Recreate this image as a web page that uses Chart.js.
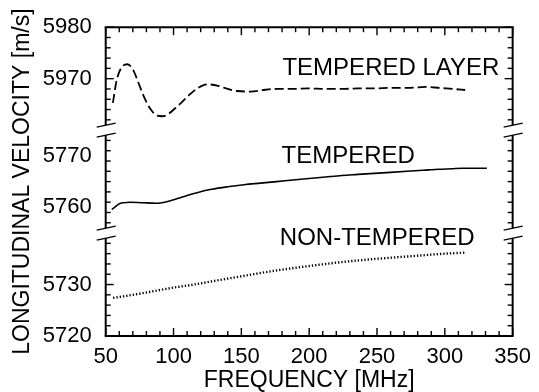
<!DOCTYPE html>
<html lang="en">
<head>
<meta charset="UTF-8">
<title>Longitudinal velocity vs frequency</title>
<script src="https://cdn.jsdelivr.net/npm/chart.js"></script>
<style>
    body { margin: 0; background: #fff; }
    #wrap { width: 539px; height: 392px; }
</style>
</head>
<body>
<div id="wrap"><canvas id="velocityChart" width="539" height="392"></canvas></div>
<script>
    // values: frequency [MHz], velocity [m/s]
    const freqLayer = [55.3, 58, 61.5, 66, 70, 75, 78.5, 83, 88, 92, 96.5, 101, 106, 111, 118, 125, 133, 140, 147, 157, 166, 176, 188, 200, 212, 224, 236, 248, 260, 272, 280, 287, 296, 306, 315];
    const velLayer = [5965.3, 5969.6, 5972.1, 5972.8, 5971.8, 5968.6, 5966.3, 5964.1, 5962.8, 5962.7, 5963.2, 5964.2, 5965.4, 5966.7, 5968.2, 5968.9, 5968.6, 5968.0, 5967.6, 5967.5, 5967.8, 5968.0, 5968.0, 5968.1, 5968.0, 5968.0, 5968.1, 5968.1, 5968.2, 5968.2, 5968.3, 5968.4, 5968.2, 5968.0, 5967.8];

    const freqTempered = [54.5, 56.5, 60, 63, 68, 77, 87, 95, 103, 110, 118, 128, 140, 152, 164, 176, 188, 200, 212, 224, 236, 248, 260, 272, 284, 296, 305, 313, 322, 331];
    const velTempered = [5759.6, 5760.0, 5760.7, 5760.9, 5761.0, 5760.9, 5760.8, 5761.1, 5761.7, 5762.3, 5762.9, 5763.5, 5764.0, 5764.4, 5764.7, 5765.0, 5765.3, 5765.6, 5765.9, 5766.2, 5766.4, 5766.6, 5766.8, 5767.0, 5767.2, 5767.4, 5767.5, 5767.6, 5767.6, 5767.6];

    const freqNonTempered = [55.5, 70, 85, 100, 115, 130, 150, 175, 200, 225, 250, 275, 300, 315];
    const velNonTempered = [5727.4, 5728.0, 5728.7, 5729.4, 5730.0, 5730.7, 5731.6, 5732.7, 5733.6, 5734.4, 5735.0, 5735.5, 5736.0, 5736.2];

    const freqTicks = [50, 100, 150, 200, 250, 300, 350];
    const lowTicks = [5720, 5730];
    const midTicks = [5760, 5770];
    const topTicks = [5970, 5980];

    // the three pieces of the broken velocity axis
    const lowRange = [5720, 5740];
    const midRange = [5755, 5775];
    const topRange = [5960, 5980];

    const FONT = '"Liberation Sans", Arial, Helvetica, sans-serif';

    function points(xs, ys) {
        return xs.map((x, i) => ({x: x, y: ys[i]}));
    }

    function strokeLine(ctx, x1, y1, x2, y2) {
        ctx.beginPath();
        ctx.moveTo(x1, y1);
        ctx.lineTo(x2, y2);
        ctx.stroke();
    }

    // box, inward ticks, axis breaks and curve labels
    const framePlugin = {
        id: 'frame',
        afterDatasetsDraw(chart) {
            const {ctx, chartArea: a, scales} = chart;
            const xs = scales.x;
            const pieces = [scales.yLow, scales.yMid, scales.yTop];
            const breaks = [scales.yLow.top, scales.yMid.top];
            const gap = 5;
            ctx.save();
            ctx.strokeStyle = '#000';
            ctx.lineCap = 'butt';

            ctx.lineWidth = 1.4;
            for (let f = 50; f <= 350; f += 10) {
                const px = xs.getPixelForValue(f);
                const len = f % 50 === 0 ? 8 : 5;
                strokeLine(ctx, px, a.bottom, px, a.bottom - len);
                strokeLine(ctx, px, a.top, px, a.top + len);
            }
            pieces.forEach(s => {
                for (let v = s.min; v <= s.max; v += 2) {
                    const py = s.getPixelForValue(v);
                    if (breaks.some(b => Math.abs(py - b) < gap + 1)) continue;
                    const len = v % 10 === 0 ? 8 : 5;
                    strokeLine(ctx, a.left, py, a.left + len, py);
                    strokeLine(ctx, a.right, py, a.right - len, py);
                }
            });

            ctx.lineWidth = 2;
            strokeLine(ctx, a.left - 1, a.bottom, a.right + 1, a.bottom);
            strokeLine(ctx, a.left - 1, a.top, a.right + 1, a.top);
            const ends = [a.top, breaks[1] - gap, breaks[1] + gap, breaks[0] - gap, breaks[0] + gap, a.bottom];
            [a.left, a.right].forEach(X => {
                for (let i = 0; i < ends.length; i += 2) {
                    strokeLine(ctx, X, ends[i], X, ends[i + 1]);
                }
            });

            ctx.lineWidth = 1.3;
            breaks.forEach(b => {
                [a.left, a.right].forEach(X => {
                    [b - gap, b + gap].forEach(y => {
                        strokeLine(ctx, X - 9, y + 2, X + 10, y - 2);
                    });
                });
            });

            ctx.fillStyle = '#000';
            ctx.font = '24px ' + FONT;
            ctx.textAlign = 'left';
            ctx.textBaseline = 'alphabetic';
            ctx.fillText('TEMPERED LAYER', xs.getPixelForValue(180.3), scales.yTop.getPixelForValue(5970.66));
            ctx.fillText('TEMPERED', xs.getPixelForValue(179.6), scales.yMid.getPixelForValue(5768.6));
            ctx.fillText('NON-TEMPERED', xs.getPixelForValue(178.4), scales.yLow.getPixelForValue(5737.6));
            ctx.restore();
        }
    };

    function yPiece(range, tickValues, withTitle) {
        return {
            type: 'linear',
            position: 'left',
            stack: 'velocity',
            stackWeight: 1,
            min: range[0],
            max: range[1],
            afterBuildTicks: s => { s.ticks = tickValues.map(v => ({value: v})); },
            afterFit: s => { s.width = 105.7; },
            grid: {display: false, drawTicks: false},
            border: {display: false},
            ticks: {
                color: '#000',
                padding: 14,
                font: {family: FONT, size: 22},
                callback: v => String(v)
            },
            title: {
                display: withTitle,
                text: 'LONGITUDINAL VELOCITY [m/s]',
                color: '#000',
                font: {family: FONT, size: 23},
                padding: {top: 9, bottom: 0}
            }
        };
    }

    const ctx = document.getElementById('velocityChart').getContext('2d');
    new Chart(ctx, {
        type: 'line',
        data: {
            datasets: [
                {
                    label: 'TEMPERED LAYER',
                    data: points(freqLayer, velLayer),
                    yAxisID: 'yTop',
                    borderColor: '#000',
                    borderWidth: 1.8,
                    borderDash: [9, 4],
                    pointRadius: 0,
                    cubicInterpolationMode: 'monotone',
                    fill: false
                },
                {
                    label: 'TEMPERED',
                    data: points(freqTempered, velTempered),
                    yAxisID: 'yMid',
                    borderColor: '#000',
                    borderWidth: 1.6,
                    pointRadius: 0,
                    cubicInterpolationMode: 'monotone',
                    fill: false
                },
                {
                    label: 'NON-TEMPERED',
                    data: points(freqNonTempered, velNonTempered),
                    yAxisID: 'yLow',
                    borderColor: '#000',
                    borderWidth: 2.4,
                    borderDash: [1.3, 2],
                    pointRadius: 0,
                    cubicInterpolationMode: 'monotone',
                    fill: false
                }
            ]
        },
        options: {
            responsive: false,
            animation: false,
            devicePixelRatio: 1,
            layout: {padding: {top: 25.7, right: 18.3, bottom: 0, left: 0}},
            plugins: {
                legend: {display: false},
                tooltip: {enabled: false}
            },
            scales: {
                x: {
                    type: 'linear',
                    min: 50,
                    max: 350,
                    afterBuildTicks: s => { s.ticks = freqTicks.map(v => ({value: v})); },
                    afterFit: s => { s.height = 56; },
                    grid: {display: false, drawTicks: false},
                    border: {display: false},
                    ticks: {
                        color: '#000',
                        padding: 8,
                        maxRotation: 0,
                        font: {family: FONT, size: 22}
                    },
                    title: {
                        display: true,
                        text: 'FREQUENCY [MHz]',
                        color: '#000',
                        font: {family: FONT, size: 23, lineHeight: 1},
                        padding: {top: 0, bottom: 0}
                    }
                },
                yLow: yPiece(lowRange, lowTicks, false),
                yMid: yPiece(midRange, midTicks, true),
                yTop: yPiece(topRange, topTicks, false)
            }
        },
        plugins: [framePlugin]
    });
</script>
</body>
</html>
